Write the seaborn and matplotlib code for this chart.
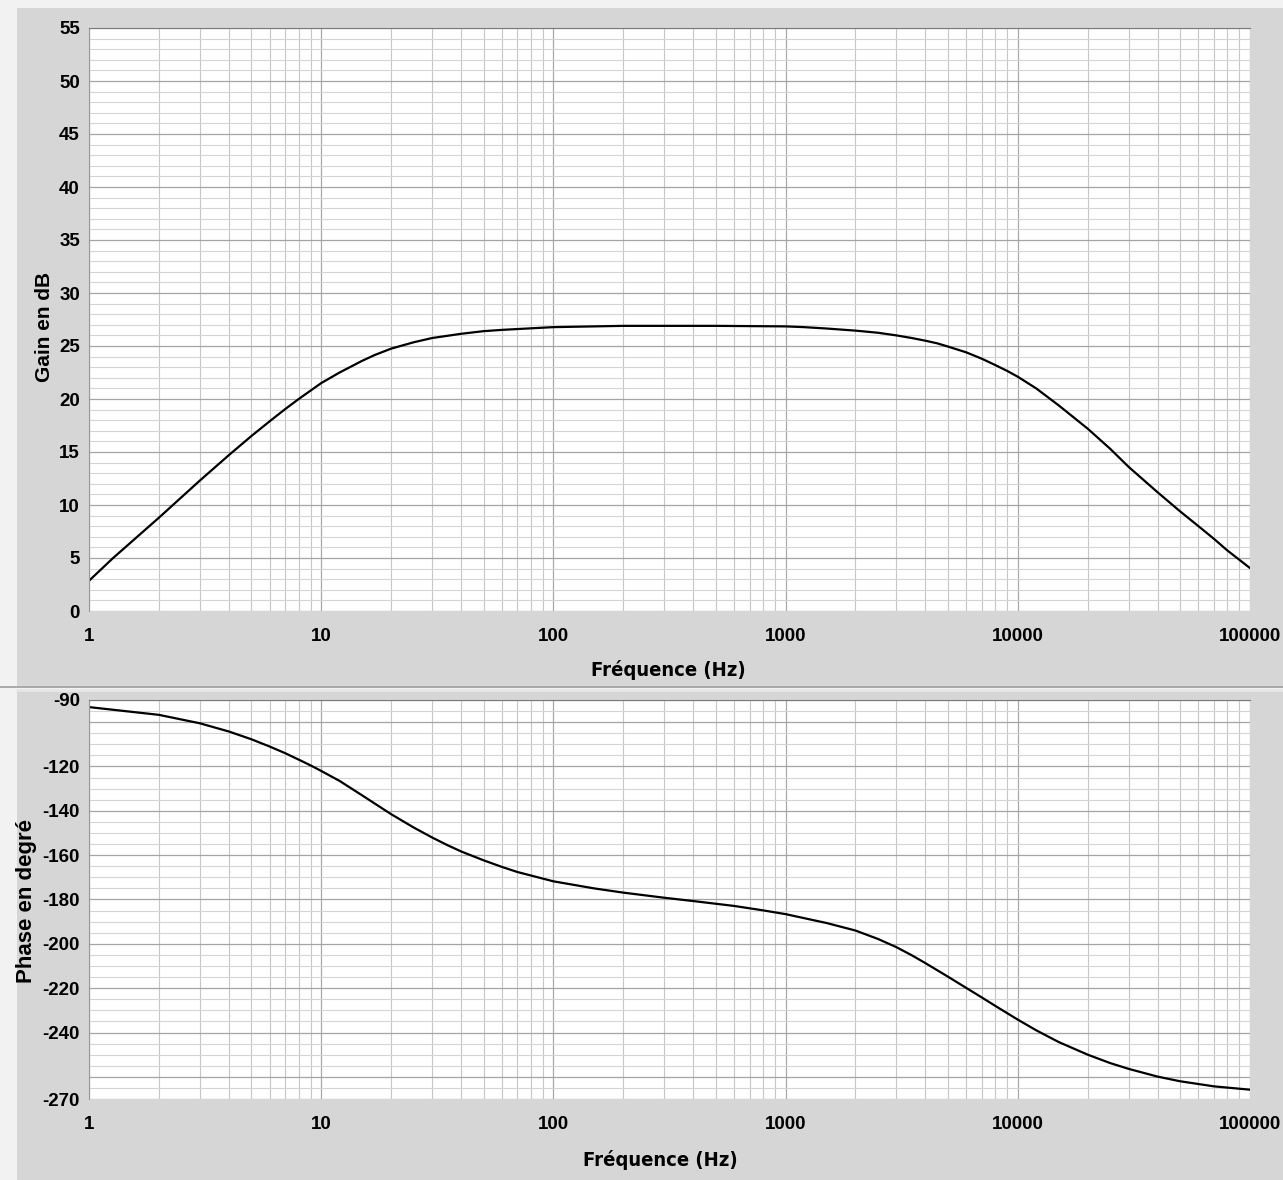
import numpy as np
import matplotlib
matplotlib.use("Agg")
import matplotlib.pyplot as plt
from matplotlib import font_manager
from matplotlib.font_manager import FontProperties
from matplotlib.patches import Rectangle
from matplotlib.lines import Line2D
from matplotlib.ticker import (FixedLocator, FixedFormatter, LogLocator,
                               MultipleLocator, NullFormatter)
import seaborn as sns

# Bode diagram
freq_gain = [1, 1.27, 2, 3, 4, 5, 6, 7, 8, 10, 12, 15, 17, 20, 25, 30, 40,
             50, 60, 70, 100, 200, 500, 1000, 1200, 1500, 2000, 2500, 3000,
             3500, 4000, 4500, 5000, 6000, 7000, 8000, 9000, 10000, 12000,
             15000, 20000, 25000, 30000, 40000, 50000, 60000, 70000, 80000,
             100000]
gain_db = [2.85, 5.0, 8.8, 12.3, 14.7, 16.5, 17.9, 19.05, 20.0, 21.5, 22.5,
           23.6, 24.15, 24.75, 25.35, 25.75, 26.15, 26.4, 26.52, 26.6, 26.78,
           26.9, 26.9, 26.85, 26.78, 26.65, 26.45, 26.25, 26.0, 25.75, 25.5,
           25.25, 24.95, 24.4, 23.8, 23.2, 22.65, 22.1, 21.0, 19.4, 17.2,
           15.3, 13.6, 11.2, 9.4, 8.0, 6.8, 5.7, 4.05]

freq_phase = [1, 2, 3, 4, 5, 6, 7, 8, 9, 10, 12, 15, 20, 25, 30, 35, 40, 50,
              60, 70, 100, 150, 200, 300, 400, 600, 800, 1000, 1500, 2000,
              2500, 3000, 3500, 4000, 5000, 6000, 7000, 8000, 10000, 12000,
              15000, 20000, 25000, 30000, 40000, 50000, 70000, 100000]
phase_deg = [-93.2, -96.7, -100.5, -104.2, -107.7, -111.0, -114.0, -116.9,
             -119.5, -122.0, -126.5, -133.0, -141.5, -147.5, -152.0, -155.5,
             -158.3, -162.3, -165.3, -167.6, -171.8, -175.0, -176.9, -179.2,
             -180.7, -182.9, -184.9, -186.6, -190.6, -194.0, -197.8, -201.5,
             -205.2, -208.7, -214.8, -219.9, -224.2, -228.0, -234.2, -239.0,
             -244.3, -250.0, -253.8, -256.4, -259.9, -262.0, -264.3, -265.8]

freq_ticks = [1, 10, 100, 1000, 10000, 100000]
freq_labels = ["1", "10", "100", "1000", "10000", "100000"]
gain_ticks = list(range(0, 56, 5))
gain_labels = [str(v) for v in gain_ticks]
phase_ticks = [-270, -260, -240, -220, -200, -180, -160, -140, -120, -100, -90]
phase_labels = ["-270", "", "-240", "-220", "-200", "-180", "-160", "-140",
                "-120", "", "-90"]

sns.set_style("white")
plt.rcParams["font.family"] = ["Liberation Sans", "DejaVu Sans"]
plt.rcParams["font.weight"] = "bold"
plt.rcParams["text.color"] = "black"
plt.rcParams["axes.labelcolor"] = "black"

W, H = 1283, 1180
BG = "#d6d6d6"


def fx(px):
    return px / W


def fy(py):
    return 1 - py / H


def narrow_bold_font(size):
    """Look for an installed narrow/condensed bold face for the x labels."""
    prefs = ["LiberationSansNarrow-Bold", "DejaVuSansCondensed-Bold",
             "NotoSans-CondensedBold", "RobotoCondensed-Bold"]
    paths = [f.fname for f in font_manager.fontManager.ttflist]
    for key in prefs:
        for p in paths:
            if key.lower() in p.lower().replace(" ", ""):
                return FontProperties(fname=p, size=size)
    return FontProperties(family="Liberation Sans", weight="bold",
                          size=size * 0.85)


def style_axes(ax, ylim, yticks, ylabels, yminor):
    ax.set_xscale("log")
    ax.set_xlim(1, 100000)
    ax.set_ylim(*ylim)
    ax.set_facecolor("white")
    ax.xaxis.set_major_locator(FixedLocator(freq_ticks))
    ax.xaxis.set_major_formatter(FixedFormatter(freq_labels))
    ax.xaxis.set_minor_locator(LogLocator(base=10, subs=np.arange(2, 10)))
    ax.xaxis.set_minor_formatter(NullFormatter())
    ax.yaxis.set_major_locator(FixedLocator(yticks))
    ax.yaxis.set_major_formatter(FixedFormatter(ylabels))
    ax.yaxis.set_minor_locator(MultipleLocator(yminor))
    ax.xaxis.grid(True, which="major", color="#a8a8a8", lw=0.9)
    ax.xaxis.grid(True, which="minor", color="#c6c6c6", lw=0.8)
    ax.yaxis.grid(True, which="major", color="#a4a4a4", lw=0.9)
    ax.yaxis.grid(True, which="minor", color="#d4d4d4", lw=0.8)
    ax.set_axisbelow(True)
    ax.tick_params(which="major", length=3.5, width=1, color="#6e6e6e",
                   labelsize=13.5, labelcolor="black")
    ax.tick_params(axis="x", which="major", pad=9)
    ax.tick_params(axis="y", which="major", pad=3)
    ax.tick_params(which="minor", length=0)
    for side in ("right", "bottom"):
        ax.spines[side].set_visible(False)
    ax.spines["top"].set_color("#7a7a7a")
    ax.spines["left"].set_color("#9a9a9a")
    ax.set_xlabel("")
    ax.set_ylabel("")


fig = plt.figure(figsize=(W / 100, H / 100), dpi=100, facecolor="#f2f2f2")

# panel backgrounds (LabVIEW style), kept behind the axes
fig.add_artist(Rectangle((fx(17), fy(686)), 1 - fx(17), fy(8) - fy(686),
                         transform=fig.transFigure, color=BG, lw=0, zorder=-5))
fig.add_artist(Rectangle((fx(17), 0), 1 - fx(17), fy(690),
                         transform=fig.transFigure, color=BG, lw=0, zorder=-5))
fig.add_artist(Line2D([fx(0), 1], [fy(687), fy(687)],
                      transform=fig.transFigure, color="#9c9c9c", lw=1.2,
                      zorder=-4))
fig.add_artist(Line2D([fx(17), 1], [fy(690), fy(690)],
                      transform=fig.transFigure, color="#e6e6e6", lw=2,
                      zorder=-4))

ax_gain = fig.add_axes([fx(89), fy(611), fx(1250) - fx(89), fy(28) - fy(611)])
ax_phase = fig.add_axes([fx(89), fy(1099), fx(1250) - fx(89), fy(700) - fy(1099)])

sns.lineplot(x=freq_gain, y=gain_db, ax=ax_gain, color="black", lw=1.6)
sns.lineplot(x=freq_phase, y=phase_deg, ax=ax_phase, color="black", lw=1.6)

style_axes(ax_gain, (0, 55), gain_ticks, gain_labels, 1)
style_axes(ax_phase, (-270, -90), phase_ticks, phase_labels, 5)

xfont = narrow_bold_font(14.5)
fig.text(fx(668), fy(670), "Fréquence (Hz)", ha="center", va="center",
         fontproperties=xfont)
fig.text(fx(660), fy(1160), "Fréquence (Hz)", ha="center", va="center",
         fontproperties=xfont)
fig.text(fx(45), fy(327), "Gain en dB", ha="center", va="center",
         rotation=90, fontsize=15, weight="bold")
fig.text(fx(27), fy(901), "Phase en degré", ha="center", va="center",
         rotation=90, fontsize=16, weight="bold")

fig.savefig("out.png", dpi=100, facecolor=fig.get_facecolor())
